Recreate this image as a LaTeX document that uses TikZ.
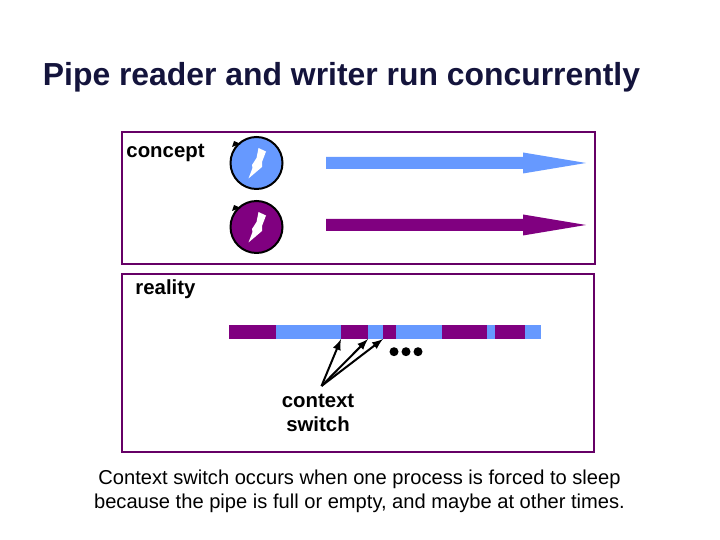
\documentclass[tikz,border=0pt]{standalone}
\usepackage{fontspec}
\setmainfont{Liberation Sans}
\definecolor{pipe-purple}{RGB}{128,0,128}
\definecolor{frame-purple}{RGB}{102,0,102}
\definecolor{pipe-blue}{RGB}{102,153,255}
\definecolor{title-navy}{RGB}{20,20,60}
\begin{document}
\begin{tikzpicture}
[
  x=0.02cm, y=-0.02cm,
  framebox/.style={rectangle,draw=frame-purple,line width=0.04cm,anchor=north west,inner sep=0pt,outer sep=0pt},
  barseg/.style={rectangle,anchor=north west,inner sep=0pt,outer sep=0pt,minimum height=0.28cm},
  proc/.style={circle,draw=black,line width=0.04cm,minimum size=1.04cm,inner sep=0pt},
  dot/.style={circle,fill=black,minimum size=0.18cm,inner sep=0pt},
  label/.style={font=\bfseries\fontsize{11.6}{13.6}\selectfont,inner sep=0pt},
  capt/.style={font=\fontsize{11.45}{13.6}\selectfont,inner sep=0pt},
  switch/.style={-latex,line width=0.04cm},
]
\useasboundingbox (0,0) rectangle (720,540);
\node[font=\bfseries\fontsize{18.15}{20}\selectfont,inner sep=0pt,text=title-navy] (title) at (341.5,77) {Pipe reader and writer run concurrently};

\node[framebox,minimum width=9.46cm,minimum height=2.64cm] (concept) at (122,132) {};
\node[framebox,minimum width=9.44cm,minimum height=3.56cm] (reality) at (122,274) {};
\node[label] (conceptl) at (165.5,153) {concept};
\node[label] (realityl) at (165.5,289) {reality};

% the two processes
\foreach \n/\y/\v/\c in {1/163/163/pipe-blue,2/227/225/pipe-purple}{
  \node[proc,fill=\c] (proc\n) at (256.5,\y) {};
  \fill[black] (232,\y-16) -- (234,\y-22) -- (241,\y-19) -- cycle;
  \fill[white] (258.5,\y-15) -- (266,\y-11.5) -- (262,\y-1) -- (262,\y+4)
    -- (248.5,\y+15.5) -- (252.5,\y+5) -- (252,\y+2) -- (256.5,\y-5) -- cycle;
  \fill[\c] (326,\v-6) -- (523,\v-6) -- (523,\v-10.5) -- (586,\v) -- (523,\v+10.5)
    -- (523,\v+6) -- (326,\v+6) -- cycle;
}

% the time line
\foreach \n/\a/\b/\c in {1/229/276/pipe-purple,2/276/341/pipe-blue,3/341/368/pipe-purple,
  4/368/383/pipe-blue,5/383/396/pipe-purple,6/396/442/pipe-blue,7/442/487/pipe-purple,
  8/487/495/pipe-blue,9/495/525/pipe-purple,10/525/541/pipe-blue}{
  \node[barseg,fill=\c,minimum width={(\b-\a)*0.02cm}] (seg\n) at (\a,325) {};
}
\node[dot] (dot1) at (394,351.7) {};
\node[dot] (dot2) at (406,351.7) {};
\node[dot] (dot3) at (418,351.7) {};

\coordinate (from) at (321.5,386);
\draw[switch] (from) -- (seg3.south west);
\draw[switch] (from) -- (seg4.south west);
\draw[switch] (from) -- (seg5.south west);
\node[label,align=center] (switchl) at (318,413) {context\\switch};

\node[capt,align=center] (caption) at (359.5,491) {Context switch occurs when one process is forced to sleep\\because the pipe is full or empty, and maybe at other times.};
\end{tikzpicture}
\end{document}
